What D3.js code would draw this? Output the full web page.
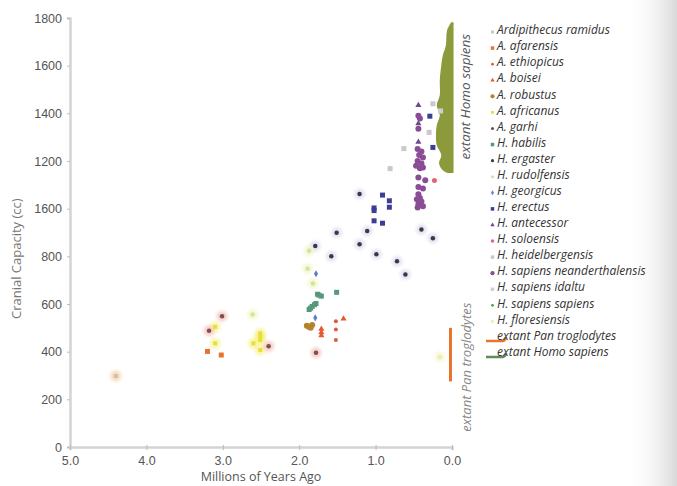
<!DOCTYPE html>
<html>
<head>
<meta charset="utf-8">
<script src="https://cdn.jsdelivr.net/npm/d3@7"></script>
<style>
  body { margin: 0; background: #fff; }
  svg { display: block; font-family: "Open Sans", sans-serif; }
</style>
</head>
<body>
<svg id="chart" width="677" height="486"></svg>
<script>
/**
 * DATA  (millions of years ago, cranial capacity in cc)
 */
const ardipithecus = [[4.40, 298]];
const afarensis = [[3.20, 401], [3.02, 386]];
const ethiopicus = [[1.52, 528], [1.52, 493], [1.52, 449]];
const boisei = [[1.71, 495], [1.71, 481], [1.71, 468], [1.42, 538]];
const robustus = [[1.90, 509], [1.87, 503], [1.85, 500], [1.83, 512]];
const africanus = [[3.10, 504], [3.10, 435], [2.51, 477], [2.51, 462], [2.51, 449], [2.60, 435], [2.51, 407]];
const garhi = [[3.01, 549], [3.18, 488], [2.40, 423], [1.78, 395]];
const habilis = [[1.87, 577], [1.85, 583], [1.83, 590], [1.80, 597], [1.78, 602],
                 [1.76, 641], [1.74, 637], [1.71, 633], [1.51, 649]];
const ergaster = [[1.79, 843], [1.58, 800], [1.21, 1062], [1.51, 899], [1.11, 906], [1.21, 851],
                  [0.99, 809], [0.72, 779], [0.61, 724], [0.40, 913], [0.25, 876]];
const rudolfensis = [[1.87, 823], [1.89, 748], [2.61, 556], [1.82, 686]];
const georgicus = [[1.78, 727], [1.79, 542]];
const erectus = [[0.91, 1057], [0.82, 1033], [1.02, 1003], [1.02, 992], [0.82, 1006], [1.02, 949],
                 [0.91, 939], [0.29, 1388], [0.25, 1257]];
const antecessor = [[0.44, 1434], [0.44, 1357], [0.44, 1280]];
const soloensis = [[0.23, 1118]];
const heidelbergensis = [[0.25, 1440], [0.30, 1320], [0.63, 1252], [0.81, 1168]];
const neanderthalensis = [[0.44, 1390], [0.42, 1378], [0.44, 1335], [0.45, 1250], [0.40, 1240], [0.43, 1225],
                          [0.38, 1215], [0.45, 1200], [0.40, 1190], [0.47, 1180], [0.42, 1170], [0.38, 1173],
                          [0.44, 1131], [0.35, 1119], [0.44, 1091], [0.38, 1085], [0.44, 1060], [0.46, 1040],
                          [0.42, 1045], [0.40, 1030], [0.44, 1020], [0.38, 1010], [0.45, 1005]];
const idaltu = [[0.15, 1410]];
const sapiensSapiens = [];
const floresiensis = [[0.16, 378]];

// extant ranges
const panRange = [275, 500];
const homoBandCC =     [1782, 1748, 1686, 1644, 1602, 1539, 1476, 1434, 1392, 1350, 1308, 1266, 1224, 1191, 1161, 1150];
const homoBandSpread = [0.01, 0.065, 0.08, 0.12, 0.14, 0.16, 0.16, 0.20, 0.16, 0.20, 0.21, 0.20, 0.14, 0.17, 0.12, 0.06];

const yTicks = [0, 200, 400, 600, 800, 1000, 1200, 1400, 1600, 1800];
const yTickLabels = ["0", "200", "400", "600", "800", "1600", "1200", "1400", "1600", "1800"];
const xTicks = [5, 4, 3, 2, 1, 0];

const species = [
  ["Ardipithecus ramidus", ardipithecus],
  ["A. afarensis", afarensis],
  ["A. ethiopicus", ethiopicus],
  ["A. boisei", boisei],
  ["A. robustus", robustus],
  ["A. africanus", africanus],
  ["A. garhi", garhi],
  ["H. habilis", habilis],
  ["H. ergaster", ergaster],
  ["H. rudolfensis", rudolfensis],
  ["H. georgicus", georgicus],
  ["H. erectus", erectus],
  ["H. antecessor", antecessor],
  ["H. soloensis", soloensis],
  ["H. heidelbergensis", heidelbergensis],
  ["H. sapiens neanderthalensis", neanderthalensis],
  ["H. sapiens idaltu", idaltu],
  ["H. sapiens sapiens", sapiensSapiens],
  ["H. floresiensis", floresiensis]
];

/**
 * STYLES
 */
const STYLE = {
  "Ardipithecus ramidus": {shape: "square", color: "#cbbfb3", size: 4, halo: "#f7c58f"},
  "A. afarensis": {shape: "square", color: "#e8732c", size: 5},
  "A. ethiopicus": {shape: "circle", color: "#e2583c", size: 4},
  "A. boisei": {shape: "triangle", color: "#e05a2e", size: 6},
  "A. robustus": {shape: "circle", color: "#b5832c", size: 6},
  "A. africanus": {shape: "square", color: "#e6df3e", size: 4, halo: "#f7f07a"},
  "A. garhi": {shape: "circle", color: "#7e4e50", size: 4.5, halo: "#f2b4a8"},
  "H. habilis": {shape: "square", color: "#56997a", size: 5},
  "H. ergaster": {shape: "circle", color: "#3a3a46", size: 4.5, halo: "#d8d2ec"},
  "H. rudolfensis": {shape: "circle", color: "#d6e39a", size: 4.5, halo: "#eef4bf"},
  "H. georgicus": {shape: "diamond", color: "#5b7bd6", size: 5},
  "H. erectus": {shape: "square", color: "#3b3d97", size: 5},
  "H. antecessor": {shape: "triangle", color: "#6a4a8c", size: 6},
  "H. soloensis": {shape: "circle", color: "#e2637c", size: 5},
  "H. heidelbergensis": {shape: "square", color: "#cbc6cf", size: 5},
  "H. sapiens neanderthalensis": {shape: "circle", color: "#8b4c96", size: 6},
  "H. sapiens idaltu": {shape: "square", color: "#c9d3cf", size: 5},
  "H. sapiens sapiens": {shape: "circle", color: "#4e9a4e", size: 4},
  "H. floresiensis": {shape: "circle", color: "#eeeeb8", size: 5, halo: "#f4f4c8"}
};

const PAN_COLOR = "#e8742a";
const HOMO_COLOR = "#8c9a3c";
const HOMO_LEGEND = "#5f8c5a";

const SHAPES = {
  square: d3.symbolSquare,
  circle: d3.symbolCircle,
  triangle: d3.symbolTriangle,
  diamond: d3.symbolDiamond
};

function symbolPath(st, scale) {
  const s = st.size * (scale || 1);
  let area = s * s;
  if (st.shape === "circle") area = Math.PI * s * s / 4;
  if (st.shape === "triangle") area = s * s * 0.45;
  if (st.shape === "diamond") area = s * s * 0.6;
  return d3.symbol().type(SHAPES[st.shape]).size(area)();
}

/**
 * SETUP
 */
const svg = d3.select("#chart");
const x = d3.scaleLinear().domain([5, 0]).range([70, 452]);
const y = d3.scaleLinear().domain([0, 1800]).range([447, 18]);

const defs = svg.append("defs");
defs.append("filter").attr("id", "blur")
  .attr("x", "-50%").attr("y", "-50%").attr("width", "200%").attr("height", "200%")
  .append("feGaussianBlur").attr("stdDeviation", 1.8);

const grad = defs.append("linearGradient").attr("id", "edge");
grad.append("stop").attr("offset", "0%").attr("stop-color", "#fff").attr("stop-opacity", 0);
grad.append("stop").attr("offset", "100%").attr("stop-color", "#d9d9d9").attr("stop-opacity", 1);

svg.append("rect").attr("x", 625).attr("y", 0).attr("width", 52).attr("height", 486)
  .attr("fill", "url(#edge)");

/**
 * AXES
 */
const yAxis = svg.append("g")
  .attr("transform", `translate(${x(5)},0)`)
  .call(d3.axisLeft(y).tickValues(yTicks).tickSize(3).tickPadding(5)
    .tickFormat((d, i) => yTickLabels[i]));

const xAxis = svg.append("g")
  .attr("transform", `translate(0,${y(0)})`)
  .call(d3.axisBottom(x).tickValues(xTicks).tickSize(3).tickPadding(3)
    .tickFormat(d3.format(".1f")));

[yAxis, xAxis].forEach(g => {
  g.select(".domain").attr("stroke", "#d4d4d4").attr("stroke-width", 2.5);
  g.selectAll(".tick line").attr("stroke", "#bbb");
  g.selectAll(".tick text").attr("fill", "#555").attr("font-size", 12.5);
});
xAxis.selectAll(".tick line").attr("y1", -2);
xAxis.selectAll(".tick text").attr("dy", "0.95em");

svg.append("text")
  .attr("transform", `translate(21,${y(790)}) rotate(-90)`)
  .attr("text-anchor", "middle")
  .attr("fill", "#777").attr("font-size", 13)
  .text("Cranial Capacity (cc)");

svg.append("text")
  .attr("x", x(2.5)).attr("y", 481)
  .attr("text-anchor", "middle")
  .attr("fill", "#555").attr("font-size", 12.5)
  .text("Millions of Years Ago");

/**
 * EXTANT RANGES
 */
const band = homoBandCC.map((c, i) => ({cc: c, w: homoBandSpread[i]}));
svg.append("path")
  .datum(band)
  .attr("fill", HOMO_COLOR)
  .attr("d", d3.area()
    .y(d => y(d.cc))
    .x0(d => x(d.w))
    .x1(() => x(-0.02))
    .curve(d3.curveCatmullRom));

svg.append("line")
  .attr("x1", x(0.02)).attr("x2", x(0.02))
  .attr("y1", y(panRange[0])).attr("y2", y(panRange[1]))
  .attr("stroke", PAN_COLOR).attr("stroke-width", 3);

svg.append("text")
  .attr("transform", `translate(${x(0) + 18},${y(1470)}) rotate(-90)`)
  .attr("text-anchor", "middle")
  .attr("fill", "#555").attr("font-size", 13.5).attr("font-style", "italic")
  .text("extant Homo sapiens");

svg.append("text")
  .attr("transform", `translate(${x(0) + 19},${y(335)}) rotate(-90)`)
  .attr("text-anchor", "middle")
  .attr("fill", "#888").attr("font-size", 13).attr("font-style", "italic")
  .text("extant Pan troglodytes");

/**
 * POINTS
 */
const points = species.flatMap(([name, data]) =>
  data.map(([mya, cc]) => ({name, mya, cc, st: STYLE[name]})));

svg.append("g").selectAll("circle")
  .data(points.filter(d => d.st.halo))
  .join("circle")
  .attr("cx", d => x(d.mya)).attr("cy", d => y(d.cc))
  .attr("r", 5.5)
  .attr("fill", d => d.st.halo)
  .attr("opacity", 0.6)
  .attr("filter", "url(#blur)");

svg.append("g").selectAll("path")
  .data(points)
  .join("path")
  .attr("transform", d => `translate(${x(d.mya)},${y(d.cc)})`)
  .attr("d", d => symbolPath(d.st))
  .attr("fill", d => d.st.color);

/**
 * LEGEND
 */
const legendItems = species.map(s => ({name: s[0], st: STYLE[s[0]]}))
  .concat([
    {name: "extant Pan troglodytes", line: PAN_COLOR},
    {name: "extant Homo sapiens", line: HOMO_LEGEND}
  ]);

const legend = svg.append("g");
const row = legend.selectAll("g")
  .data(legendItems)
  .join("g")
  .attr("transform", (d, i) => `translate(0,${30 + i * 16.08})`);

row.filter(d => d.st).append("path")
  .attr("transform", "translate(492.5,2)")
  .attr("d", d => symbolPath(d.st, 0.7))
  .attr("fill", d => d.st.color);

row.filter(d => d.line).append("path")
  .attr("d", "M486,5.5 L503,5.5 Q505,5 506,2")
  .attr("fill", "none")
  .attr("stroke", d => d.line)
  .attr("stroke-width", 2.5);

row.append("text")
  .attr("x", 497).attr("y", 0).attr("dy", "0.35em")
  .attr("fill", "#333").attr("font-size", 12).attr("font-style", "italic")
  .text(d => d.name);
</script>
</body>
</html>
